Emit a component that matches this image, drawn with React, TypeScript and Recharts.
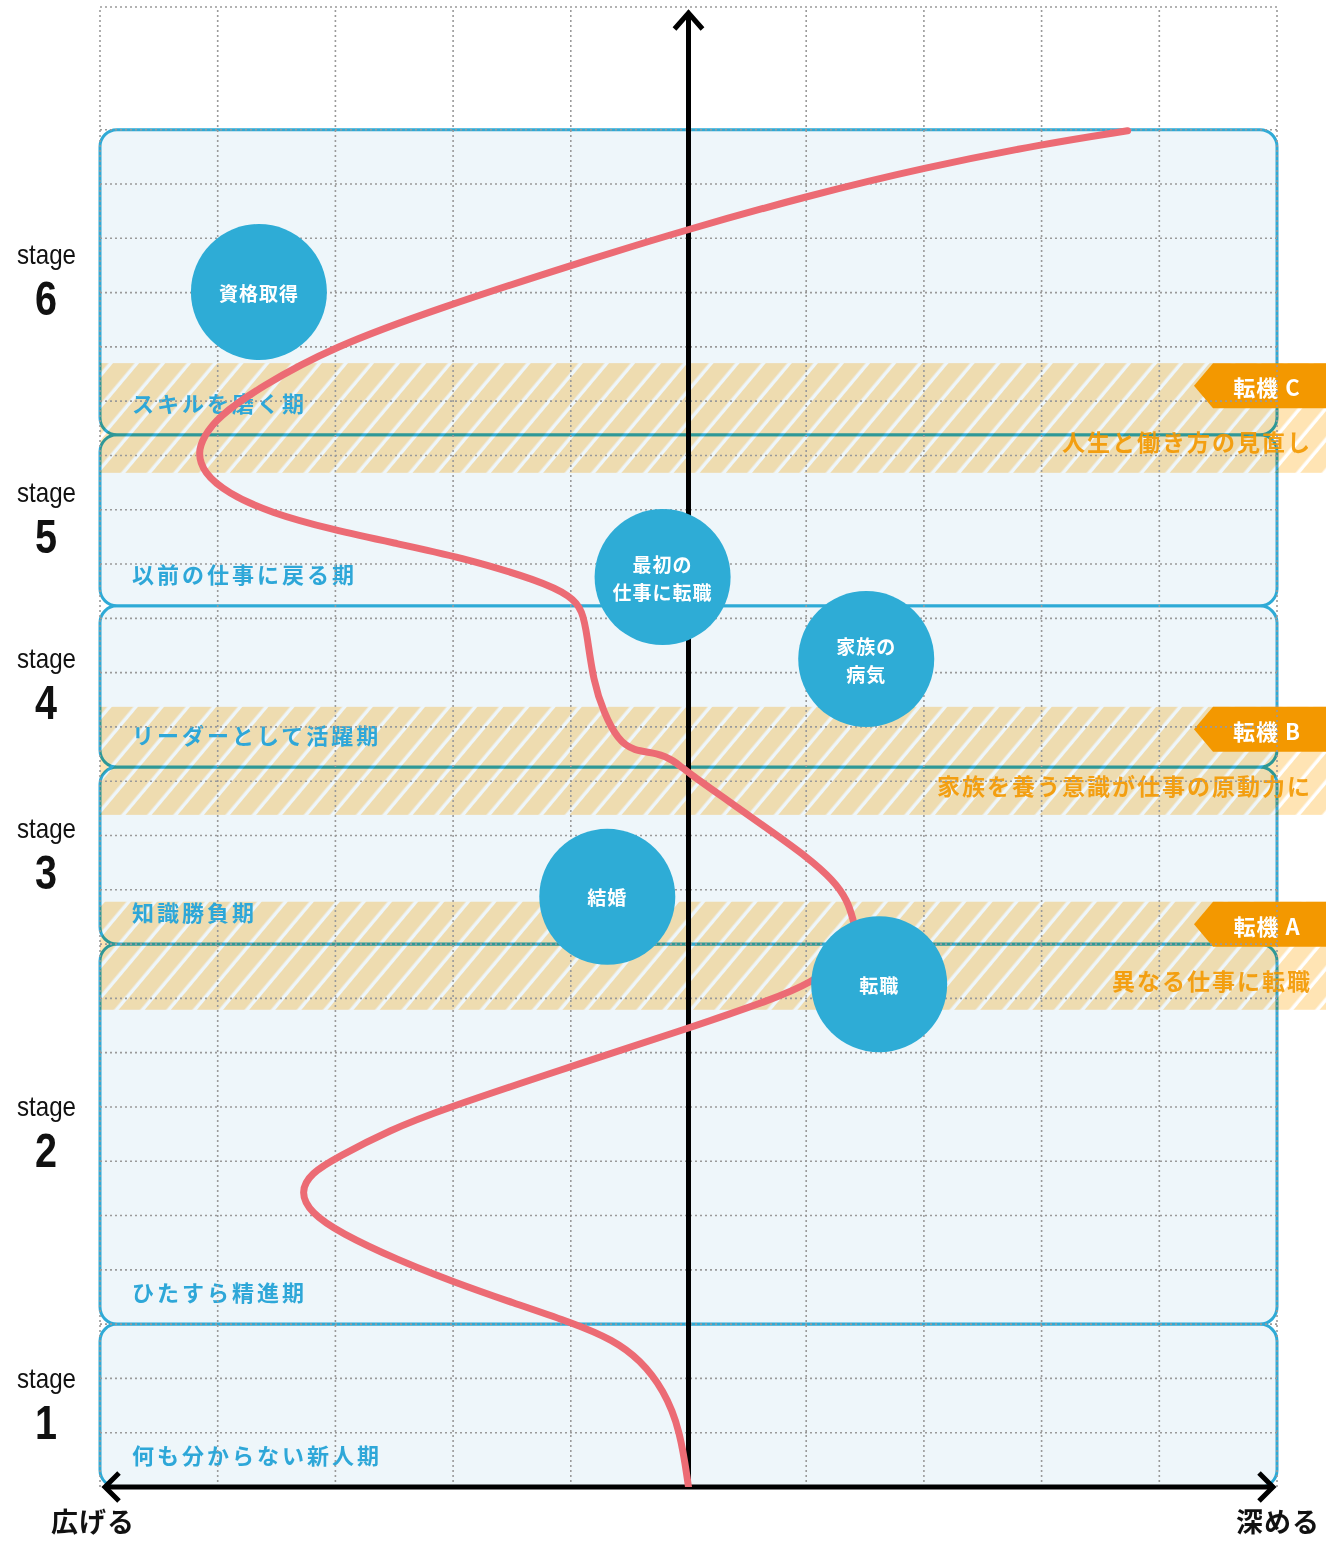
import React from 'react';
import { ComposedChart, Line, XAxis, YAxis, ReferenceArea, ReferenceLine, ReferenceDot } from 'recharts';

// career curve: age (y) vs. depth (x, negative = 広げる, positive = 深める)
const curveAges = [
  20.0, 21.05, 21.79, 22.34, 22.71, 23.02, 23.39, 23.78, 24.18, 24.68,
  25.05, 25.43, 25.78, 26.08, 26.58, 26.94, 27.68, 28.45, 28.97, 29.28,
  29.74, 30.17, 30.44, 30.81, 31.18, 31.6, 32.05, 32.65, 33.15, 33.39,
  33.52, 33.56, 33.76, 34.26, 34.86, 35.66, 36.15, 36.41, 36.69, 37.13,
  37.39, 37.63, 37.94, 38.31, 38.68, 39.05, 39.34, 39.71, 40.26, 41.0,
  41.72, 42.51, 43.17, 43.78, 44.3, 44.74, 44.98,
];
const curveDepth = [
  0.0, -0.07, -0.21, -0.41, -0.64, -0.98, -1.49, -2.0, -2.47, -2.96,
  -3.21, -3.3, -3.21, -2.98, -2.53, -2.11, -1.09, 0.0, 0.7, 1.04,
  1.33, 1.43, 1.4, 1.35, 1.23, 1.01, 0.72, 0.33, 0.0, -0.13,
  -0.26, -0.47, -0.6, -0.72, -0.81, -0.86, -0.9, -1.0, -1.26, -1.94,
  -2.51, -3.02, -3.55, -3.92, -4.12, -4.17, -4.12, -4.0, -3.64, -3.02,
  -2.11, -0.99, 0.0, 1.01, 2.0, 3.02, 3.73,
];

const stageNames = ['1', '2', '3', '4', '5', '6'];
const stageFrom = [20, 23, 30, 33.26, 36.23, 39.38];
const stageTo = [23, 30, 33.26, 36.23, 39.38, 45];
const stagePeriods = [
  '何も分からない新人期',
  'ひたすら精進期',
  '知識勝負期',
  'リーダーとして活躍期',
  '以前の仕事に戻る期',
  'スキルを磨く期',
];

const turnNames = ['A', 'B', 'C'];
const turnFrom = [28.79, 32.38, 38.68];
const turnTo = [30.78, 34.37, 40.7];
const turnNotes = ['異なる仕事に転職', '家族を養う意識が仕事の原動力に', '人生と働き方の見直し'];

const eventLabels = [['資格取得'], ['最初の', '仕事に転職'], ['家族の', '病気'], ['結婚'], ['転職']];
const eventAges = [42.01, 36.76, 35.25, 30.87, 29.26];
const eventDepth = [-3.65, -0.22, 1.51, -0.69, 1.62];

const ageTicks = [20, 25, 30, 35, 40, 45];
const depthTicks = [-5, 5];
const depthLabels = ['広げる', '深める'];

const gridDepths = [-5, -4, -3, -2, -1, 0, 1, 2, 3, 4, 5];
const gridAges = [21, 22, 23, 24, 25, 26, 27, 28, 29, 30, 31, 32, 33, 34, 35, 36, 37, 38, 39, 40, 41, 42, 43, 44, 45, 47.26];

const curveData = curveAges.map((age, i) => ({ age, x: curveDepth[i] }));

const FONT = "'Noto Sans CJK JP', 'Noto Sans', sans-serif";
const NARROW = "'Liberation Sans Narrow', 'Liberation Sans', sans-serif";
const BLUE = '#2eaad6';
const ORANGE = '#f39800';
const CENTER_X = 688;
const RIGHT_BLEED = 49;

const StageBox = (props: any) => {
  const { x, y, width, height } = props;
  return (
    <rect x={x} y={y} width={width} height={height} rx={17} ry={17}
      fill="#eef6fa" stroke={BLUE} strokeWidth={3} />
  );
};

const StageText = (props: any) => {
  const { x, y, height, idx } = props;
  const cy = y + height / 2;
  return (
    <g>
      <text x={x - 83} y={cy - 18} fill="#111" fontSize={28} fontFamily={NARROW}
        textLength={59} lengthAdjust="spacingAndGlyphs">stage</text>
      <text x={x - 65} y={cy + 33} fill="#111" fontSize={48} fontWeight={700} fontFamily={NARROW}
        textLength={22} lengthAdjust="spacingAndGlyphs">
        {stageNames[idx]}
      </text>
      <text x={x + 32} y={y + height - 33} dominantBaseline="central" fontSize={22} fontWeight={700}
        fill="#2ea7d8" letterSpacing={3}>
        {stagePeriods[idx]}
      </text>
    </g>
  );
};

const TurnBand = (props: any) => {
  const { x, y, width, height, idx } = props;
  const right = x + width + RIGHT_BLEED;
  return (
    <g>
      <rect x={x} y={y} width={right - x} height={height} fill="url(#hatch)" style={{ mixBlendMode: 'multiply' }} />
      <polygon
        points={`${right - 132},${y + 22.5} ${right - 113},${y} ${right},${y} ${right},${y + 45} ${right - 113},${y + 45}`}
        fill={ORANGE}
      />
      <text x={right - 59} y={y + 23} textAnchor="middle" dominantBaseline="central" fill="#fff"
        fontSize={22} fontWeight={700} letterSpacing={1}>
        {`転機 ${turnNames[idx]}`}
      </text>
      <text x={right - 14} y={y + 78} textAnchor="end" dominantBaseline="central" fill={ORANGE}
        fillOpacity={0.9} fontSize={23} fontWeight={700} letterSpacing={2}>
        {turnNotes[idx]}
      </text>
    </g>
  );
};

const EventDot = (props: any) => {
  const { cx, cy, idx } = props;
  const lines = eventLabels[idx];
  return (
    <g>
      <circle cx={cx} cy={cy} r={68} fill="#2eacd6" />
      {lines.map((t, i) => (
        <text key={i} x={cx} y={cy + (i - (lines.length - 1) / 2) * 28} textAnchor="middle"
          dominantBaseline="central" fill="#fff" fontSize={19} fontWeight={700} letterSpacing={1}>
          {t}
        </text>
      ))}
    </g>
  );
};

const VerticalAxis = (props: any) => {
  const { x1, y1, y2 } = props;
  const top = Math.min(y1, y2) + 3;
  const bottom = Math.max(y1, y2);
  return (
    <g>
      <line x1={x1} x2={x1} y1={bottom} y2={top + 2} stroke="#000" strokeWidth={5} />
      <polyline points={`${x1 - 14},${top + 19} ${x1},${top + 3} ${x1 + 14},${top + 19}`}
        fill="none" stroke="#000" strokeWidth={5} />
    </g>
  );
};

const HorizontalAxis = (props: any) => {
  const { x1, x2, y1 } = props;
  const left = Math.min(x1, x2) + 4;
  const right = Math.max(x1, x2) - 3;
  return (
    <g>
      <line x1={left + 2} x2={right - 2} y1={y1} y2={y1} stroke="#000" strokeWidth={5} />
      <polyline points={`${left + 15},${y1 - 14} ${left + 1},${y1} ${left + 15},${y1 + 14}`}
        fill="none" stroke="#000" strokeWidth={5} />
      <polyline points={`${right - 15},${y1 - 14} ${right - 1},${y1} ${right - 15},${y1 + 14}`}
        fill="none" stroke="#000" strokeWidth={5} />
    </g>
  );
};

const AgeTick = (props: any) => {
  const { y, payload } = props;
  const v = payload.value;
  if (v === 20 || v === 45) {
    const cy = v === 20 ? y - 60 : y - 52;
    return (
      <g>
        <rect x={705} y={cy - 37.5} width={75} height={75} fill="#fff" stroke="#222" strokeWidth={2} />
        <text x={742} y={cy} textAnchor="middle" dominantBaseline="central" fill="#111">
          <tspan fontSize={28}>{v}</tspan>
          <tspan fontSize={19} dx={2}>歳</tspan>
        </text>
      </g>
    );
  }
  return (
    <text x={CENTER_X + 15} y={y - 21} dominantBaseline="central" fill="#111">
      <tspan fontSize={28}>{v}</tspan>
      <tspan fontSize={19} dx={5}>歳</tspan>
    </text>
  );
};

const DepthTick = (props: any) => {
  const { x, payload } = props;
  const i = depthTicks.indexOf(payload.value);
  const dx = i === 0 ? -7 : 1;
  return (
    <text x={x + dx} y={1532} textAnchor="middle" fontSize={27}
      fontWeight={700} fill="#111" letterSpacing={1}>
      {depthLabels[i]}
    </text>
  );
};

export default function App() {
  return (
    <div style={{ position: 'absolute', left: 0, top: 0, width: 1326, height: 1541, background: '#fff', fontFamily: FONT }}>
      <ComposedChart
        width={1326}
        height={1541}
        layout="vertical"
        data={curveData}
        margin={{ top: 7, right: RIGHT_BLEED, bottom: 0, left: 100 }}
      >
        <defs>
          <pattern id="hatch" patternUnits="userSpaceOnUse" width="20" height="20" patternTransform="rotate(40)">
            <rect x="0" y="0" width="16.5" height="20" fill="#ffe4b4" />
          </pattern>
        </defs>
        <XAxis type="number" dataKey="x" domain={[-5, 5]} allowDataOverflow ticks={depthTicks} interval={0}
          axisLine={false} tickLine={false} height={54} tick={<DepthTick />} />
        <YAxis type="number" dataKey="age" domain={[20, 47.26]} allowDataOverflow reversed ticks={ageTicks}
          interval={0} axisLine={false} tickLine={false} width={0} tick={<AgeTick />} />

        {stageFrom.map((from, i) => (
          <ReferenceArea key={`stage-${i}`} x1={-5} x2={5} y1={from} y2={stageTo[i]}
            shape={(p: any) => <StageBox {...p} />} />
        ))}

        {gridDepths.map((d) => (
          <ReferenceLine key={`gx-${d}`} x={d} stroke="#9a9a9a" strokeWidth={1.6} strokeDasharray="2 3" />
        ))}
        {gridAges.map((a) => (
          <ReferenceLine key={`gy-${a}`} y={a} stroke="#9a9a9a" strokeWidth={1.6} strokeDasharray="2 3" />
        ))}

        {turnFrom.map((from, i) => (
          <ReferenceArea key={`turn-${i}`} x1={-5} x2={5} y1={from} y2={turnTo[i]}
            shape={(p: any) => <TurnBand {...p} idx={i} />} />
        ))}

        {stageFrom.map((from, i) => (
          <ReferenceArea key={`stage-text-${i}`} x1={-5} x2={5} y1={from} y2={stageTo[i]}
            shape={(p: any) => <StageText {...p} idx={i} />} />
        ))}

        <ReferenceLine x={0} shape={(p: any) => <VerticalAxis {...p} />} />
        <ReferenceLine y={20} shape={(p: any) => <HorizontalAxis {...p} />} />

        <Line type="basis" dataKey="x" stroke="#ec6b74" strokeWidth={7} dot={false}
          strokeLinecap="round" isAnimationActive={false} />

        {eventAges.map((age, i) => (
          <ReferenceDot key={`ev-${i}`} x={eventDepth[i]} y={age} r={68}
            shape={(p: any) => <EventDot {...p} idx={i} />} />
        ))}
      </ComposedChart>
    </div>
  );
}
